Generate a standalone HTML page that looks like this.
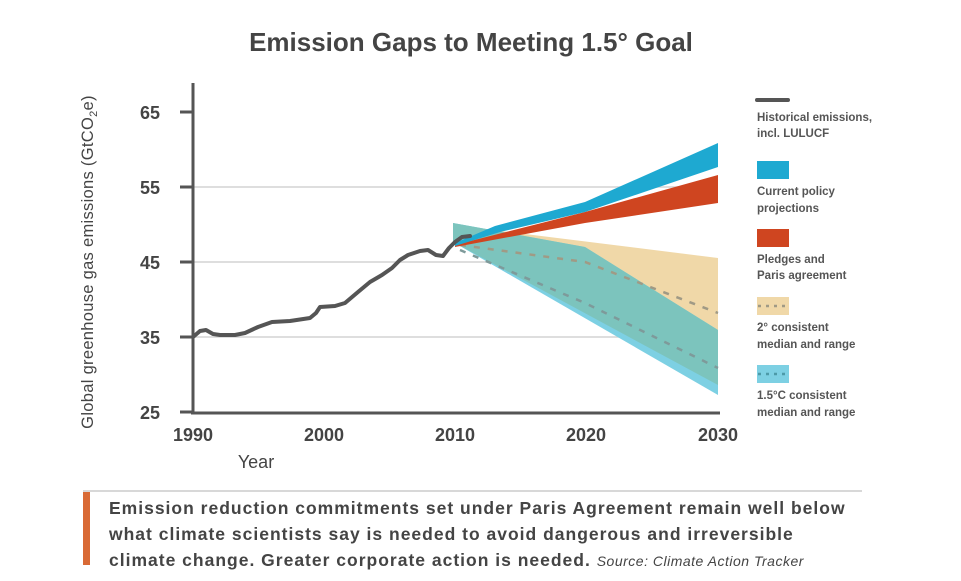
<!DOCTYPE html>
<html><head><style>
body{margin:0;background:#fff;width:961px;height:581px;overflow:hidden;font-family:"Liberation Sans",sans-serif;}
</style></head><body>
<svg width="961" height="581" xmlns="http://www.w3.org/2000/svg" style="position:absolute;left:0;top:0">
<text x="471" y="51" text-anchor="middle" font-size="26" font-weight="bold" fill="#444">Emission Gaps to Meeting 1.5° Goal</text>
<g stroke="#d4d4d4" stroke-width="1.5">
<line x1="193" y1="187" x2="718" y2="187"/><line x1="193" y1="262" x2="718" y2="262"/><line x1="193" y1="337" x2="718" y2="337"/>
</g>
<g stroke="#555" stroke-width="3">
<line x1="193" y1="83" x2="193" y2="413"/><line x1="191" y1="413" x2="720" y2="413"/>
<line x1="180" y1="112" x2="193" y2="112"/><line x1="180" y1="187" x2="193" y2="187"/><line x1="180" y1="262" x2="193" y2="262"/><line x1="180" y1="337" x2="193" y2="337"/><line x1="180" y1="412" x2="193" y2="412"/>
</g>
<g font-size="18" font-weight="bold" fill="#444" text-anchor="end">
<text x="160" y="119">65</text><text x="160" y="194">55</text><text x="160" y="269">45</text><text x="160" y="344">35</text><text x="160" y="419">25</text>
</g>
<g font-size="18" font-weight="bold" fill="#444" text-anchor="middle">
<text x="193" y="441">1990</text><text x="324" y="441">2000</text><text x="455" y="441">2010</text><text x="586" y="441">2020</text><text x="718" y="441">2030</text>
</g>
<text x="256" y="468" font-size="18" fill="#444" text-anchor="middle">Year</text>
<text transform="translate(93,262) rotate(-90)" font-size="16.5" fill="#444" text-anchor="middle" letter-spacing="0.3">Global greenhouse gas emissions (GtCO<tspan font-size="11" dy="4">2</tspan><tspan dy="-4">e)</tspan></text>
<polygon points="453,225 718,258 718,385 453,242" fill="#f0d8a8"/>
<polygon points="453,223 585,247 718,330 718,395 453,242" fill="#7dd0e3"/>
<polygon points="453,223 585,247 718,330 718,385 453,242" fill="#7cc4bd"/>
<polyline points="460,245 585,262 718,313" fill="none" stroke="#a09a85" stroke-width="2.5" stroke-dasharray="6,8"/>
<polyline points="460,250 585,303 718,368" fill="none" stroke="#7e9a9a" stroke-width="2.5" stroke-dasharray="6,8"/>
<polygon points="455,245 585,212 718,175 718,203 585,223 455,247" fill="#cf4520"/>
<polygon points="455,243 495,226 585,202 718,143 718,167 585,212 500,232 455,246" fill="#1ea9d1"/>
<polyline points="193,337 200,331 206,330 213,334 220,335 235,335 245,333 258,327 272,322 290,321 310,318 316,313 320,307 335,306 345,303 358,292 370,282 382,275 392,268 400,260 408,255 420,251 428,250 436,255 443,256 449,248 455,242 462,237 470,236" fill="none" stroke="#555" stroke-width="4" stroke-linejoin="round" stroke-linecap="round"/>
<line x1="757" y1="100" x2="788" y2="100" stroke="#555" stroke-width="4" stroke-linecap="round"/>
<rect x="757" y="161" width="32" height="18" fill="#1ea9d1"/>
<rect x="757" y="229" width="32" height="18" fill="#cf4520"/>
<rect x="757" y="297" width="32" height="18" fill="#f0d8a8"/>
<line x1="758" y1="306" x2="789" y2="306" stroke="#a09a85" stroke-width="2.5" stroke-dasharray="3,5"/>
<rect x="757" y="365" width="32" height="18" fill="#7dd0e3"/>
<line x1="758" y1="374" x2="789" y2="374" stroke="#4d9aa8" stroke-width="2.5" stroke-dasharray="3,5"/>
<g font-size="11.5" font-weight="bold" fill="#555">
<text x="757" y="121">Historical emissions,</text><text x="757" y="137">incl. LULUCF</text>
<text x="757" y="195">Current policy</text><text x="757" y="212">projections</text>
<text x="757" y="263">Pledges and</text><text x="757" y="279">Paris agreement</text>
<text x="757" y="331">2° consistent</text><text x="757" y="348">median and range</text>
<text x="757" y="399">1.5°C consistent</text><text x="757" y="416">median and range</text>
</g>
<line x1="83" y1="491" x2="862" y2="491" stroke="#ccc" stroke-width="1.5"/>
<rect x="83" y="492" width="7" height="73" fill="#d96a35"/>
<g font-size="17.5" font-weight="bold" fill="#444" letter-spacing="1">
<text x="109" y="514">Emission reduction commitments set under Paris Agreement remain well below</text>
<text x="109" y="540">what climate scientists say is needed to avoid dangerous and irreversible</text>
<text x="109" y="566">climate change. Greater corporate action is needed. <tspan font-size="14" font-weight="normal" font-style="italic" letter-spacing="0.5">Source: Climate Action Tracker</tspan></text>
</g>
</svg>
</body></html>
